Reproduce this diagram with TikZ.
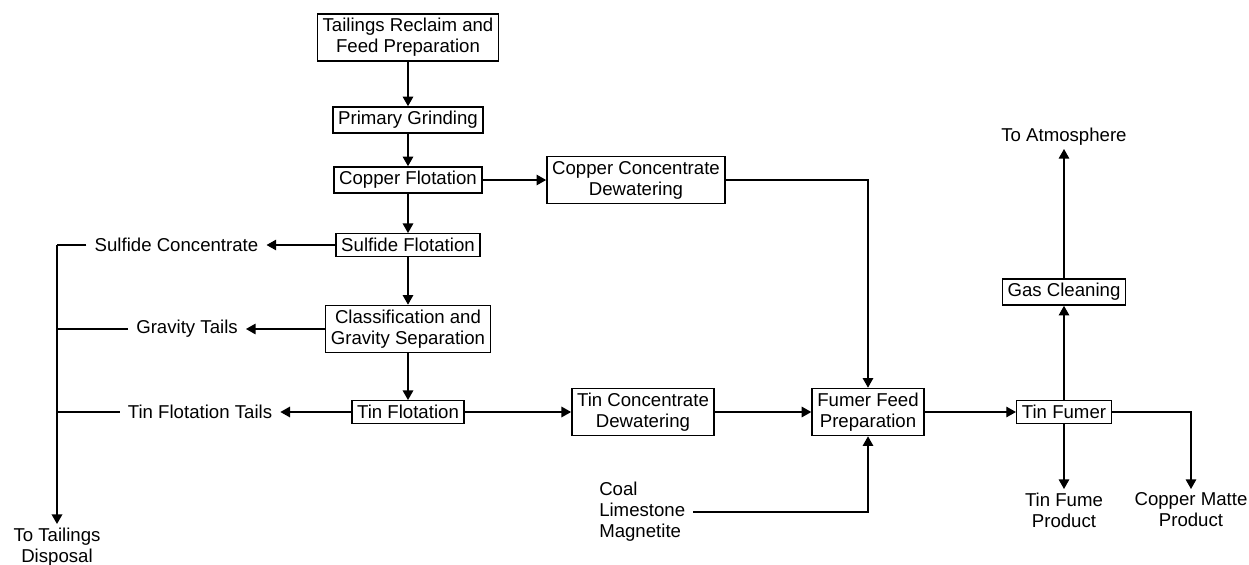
\documentclass[tikz,border=0pt]{standalone}
\usepackage{fontspec}
\setmainfont{Liberation Sans}
\usepackage{tikz}
\usetikzlibrary{arrows.meta}

\tikzset{
  proc/.style={draw, line width=0.8pt, align=center, inner xsep=3pt, inner ysep=2.5pt},
  lbl/.style={align=center, inner xsep=4.5pt, inner ysep=2pt},
  flow/.style={line width=0.8pt, -{Triangle[length=5.5pt,width=6pt]}},
  pipe/.style={line width=0.8pt},
}

\begin{document}
\begin{tikzpicture}[x=0.02cm, y=-0.02cm, font=\fontsize{10.6}{12}\selectfont]
  \useasboundingbox (0,0) rectangle (1249,565);

  \node[proc] (tail) at (408,37.5) {Tailings Reclaim and\\Feed Preparation};
  \node[proc] (grind) at (408,120) {Primary Grinding};
  \node[proc] (cuflot) at (408,180) {Copper Flotation};
  \node[proc] (sulf) at (408,245) {Sulfide Flotation};
  \node[proc] (class) at (408,329) {Classification and\\Gravity Separation};
  \node[proc] (tinflot) at (408,412) {Tin Flotation};

  \node[proc] (ccd) at (636,180) {Copper Concentrate\\Dewatering};
  \node[proc] (tcd) at (643,412) {Tin Concentrate\\Dewatering};
  \node[proc] (fumfeed) at (868,412) {Fumer Feed\\Preparation};
  \node[proc] (fumer) at (1064,412) {Tin Fumer};
  \node[proc] (gas) at (1064,292) {Gas Cleaning};

  \node[lbl] (sulfconc) at (176.5,245) {Sulfide Concentrate};
  \node[lbl] (gtails) at (187,329) {Gravity Tails};
  \node[lbl] (tftails) at (200,412) {Tin Flotation Tails};
  \node[lbl, anchor=north] (disposal) at (57,524) {To Tailings\\Disposal};
  \node[lbl, anchor=south] (atm) at (1064,149) {To Atmosphere};
  \node[lbl, anchor=north] (fume) at (1064,489) {Tin Fume\\Product};
  \node[lbl, anchor=north] (matte) at (1191,489) {Copper Matte\\Product};
  \node[lbl, align=left, anchor=west] (addit) at (591,512) {Coal\\Limestone\\Magnetite};

  \coordinate (bus) at (57,245);

  \draw[flow] (tail) -- (grind);
  \draw[flow] (grind) -- (cuflot);
  \draw[flow] (cuflot) -- (sulf);
  \draw[flow] (sulf) -- (class);
  \draw[flow] (class) -- (tinflot);

  \draw[flow] (cuflot) -- (ccd);
  \draw[flow] (ccd.east) -| (fumfeed.north);
  \draw[flow] (tinflot) -- (tcd);
  \draw[flow] (tcd) -- (fumfeed);
  \draw[flow] (fumfeed) -- (fumer);
  \draw[flow] (addit.east) -| (fumfeed.south);

  \draw[flow] (fumer) -- (gas);
  \draw[flow] (gas) -- (atm);
  \draw[flow] (fumer) -- (fume);
  \draw[flow] (fumer.east) -| (matte.north);

  \draw[flow] (sulf) -- (sulfconc);
  \draw[flow] (class) -- (gtails);
  \draw[flow] (tinflot) -- (tftails);

  \draw[pipe] (sulfconc.west) -- (bus);
  \draw[pipe] (gtails.west) -- (gtails.west -| bus);
  \draw[pipe] (tftails.west) -- (tftails.west -| bus);
  \draw[flow, line width=1pt] (bus) -- (disposal.north);
\end{tikzpicture}
\end{document}
